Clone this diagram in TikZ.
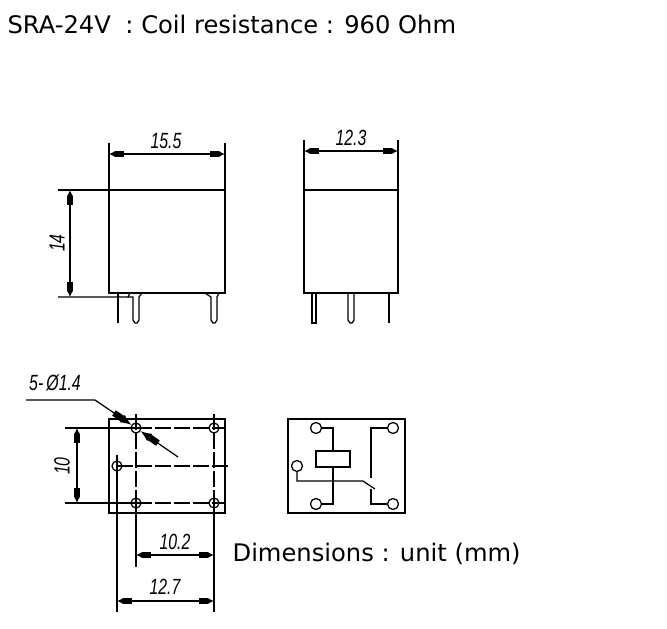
\documentclass[tikz,border=0pt]{standalone}
\usepackage{fontspec}
\setmainfont{DejaVu Sans}
\newfontfamily\dimfont{Liberation Sans}
\usetikzlibrary{arrows.meta}
\tikzset{
  dimarrow/.style={{Latex[length=6pt,width=6pt].Rectangle[length=9pt,width=6pt]}-{Rectangle[length=9pt,width=6pt].Latex[length=6pt,width=6pt]}},
  tiponly/.style={-{Rectangle[length=10pt,width=6.5pt].Latex[length=11pt,width=9pt]}},
  dimtext/.style={font=\dimfont\itshape\fontsize{22}{22}\selectfont,inner sep=0pt,xscale=0.72},
  heading/.style={anchor=base west,inner sep=0pt,font=\fontsize{24.2}{24}\selectfont},
  hole/.style={circle,draw,inner sep=0pt,minimum size=10pt},
  pinhole/.style={circle,draw,fill=white,inner sep=0pt,minimum size=11pt},
  centre/.style={dash pattern=on 16pt off 3pt}
}
\begin{document}
\begin{tikzpicture}[x=1pt,y=-1pt,line width=1.25pt,>=latex]
  \useasboundingbox (0,0) rectangle (667,629);
  \fill[white] (0,0) rectangle (667,629);

  % headings
  \node[heading] (title) at (7,34) {SRA-24V\hspace{0.6em}: Coil resistance : 960 Ohm};
  \node[heading] (units) at (232,561) {Dimensions : unit (mm)};

  % front view
  \draw (109,293) rectangle (225,190);
  \draw (109,143) -- (109,190);
  \draw (225,143) -- (225,190);
  \draw (58,190) -- (109,190);
  \draw (58,297) -- (128,297) -- (130,293);
  \draw[dimarrow] (109,154) -- (225,154);
  \draw[dimarrow] (70,190) -- (70,297);
  \node[dimtext] (frontwidth) at (166,141) {15.5};
  \node[rotate=90,dimtext] (frontheight) at (57,243) {14};
  \draw[line width=2.2pt] (118,293) -- (118,323);
  \draw (128,297) -- (133,297) -- (133,320) -- (135,323) -- (137,323) -- (139,320) -- (139,297) -- (142,293);
  \draw (205,293) -- (211,297) -- (211,320) -- (213,323) -- (215,323) -- (217,320) -- (217,297) -- (219,293);

  % side view
  \draw (304,293) rectangle (398,190);
  \draw (304,140) -- (304,190);
  \draw (398,140) -- (398,190);
  \draw[dimarrow] (304,151) -- (398,151);
  \node[dimtext] (sidewidth) at (351,138) {12.3};
  \draw (312,293) -- (312,323) -- (316,323) -- (316,293);
  \draw (348,293) -- (348,320) -- (350,323) -- (352,323) -- (354,320) -- (354,293);
  \draw[line width=2.2pt] (389,293) -- (389,323);

  % footprint
  \draw (109,419) rectangle (225,513);
  \node[hole] (a) at (136,428) {};
  \node[hole] (b) at (214,428) {};
  \node[hole] (c) at (136,503) {};
  \node[hole] (d) at (214,503) {};
  \node[hole] (e) at (117,466) {};
  \coordinate (atop) at (136,414);
  \coordinate (btop) at (214,414);
  \coordinate (abot) at (136,567);
  \coordinate (bbot) at (214,612);
  \coordinate (etop) at (117,455);
  \coordinate (ebot) at (117,612);
  \draw (65,428) -- (a.center);
  \draw (65,503) -- (c.center);
  \draw[centre] (a.center) -- (225,428);
  \draw[centre] (c.center) -- (225,503);
  \draw[centre] (e.center) -- (231,466);
  \draw[centre] (atop) -- (c.center);
  \draw[centre] (btop) -- (d.center);
  \draw (c.center) -- (abot);
  \draw (d.center) -- (bbot);
  \draw (etop) -- (ebot);
  \draw[dimarrow] (77,428) -- (77,503);
  \node[rotate=90,dimtext] (holeheight) at (62,466) {10};
  \draw[dimarrow] (136,555) -- (214,555);
  \node[dimtext] (holewidth) at (175,542) {10.2};
  \draw[dimarrow] (117,601) -- (214,601);
  \node[dimtext] (totalwidth) at (165,587) {12.7};

  % hole callout
  \node[dimtext] (holesize) at (55,383) {5-\hspace{0.2em}Ø1.4};
  \coordinate (lead) at (26,400);
  \coordinate (bend) at (95,400);
  \coordinate (tail) at (178,457);
  \draw[tiponly] (lead) -- (bend) -- (a);
  \draw[tiponly] (tail) -- (a);

  % wiring diagram
  \draw (288,419) rectangle (405,513);
  \node[pinhole] (p1) at (316,428) {};
  \node[pinhole] (p2) at (393,428) {};
  \node[pinhole] (p3) at (297,466) {};
  \node[pinhole] (p4) at (316,504) {};
  \node[pinhole] (p5) at (393,504) {};
  \node[draw,minimum width=34pt,minimum height=16pt,inner sep=0pt] (coil) at (333,459) {};
  \draw (p1) -- (333,428) -- (coil.north);
  \draw (p4) -- (333,504) -- (coil.south);
  \draw (p3) |- (363,481) -- (375,489);
  \draw (p5) -- (371,504) -- (371,489);
  \draw (p2) -- (371,428) -- (371,478);
\end{tikzpicture}
\end{document}
